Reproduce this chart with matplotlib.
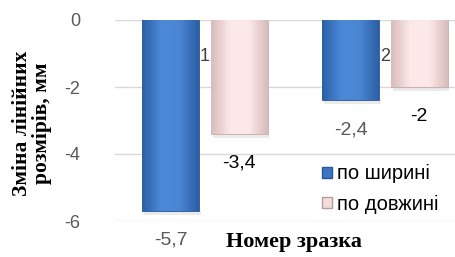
import numpy as np
import matplotlib
matplotlib.use('Agg')
import matplotlib.pyplot as plt
from matplotlib.colors import LinearSegmentedColormap
from matplotlib.patches import Rectangle

plt.rcParams['font.family'] = ['Liberation Sans', 'DejaVu Sans']

samples = ['1', '2']
width_vals = [-5.7, -2.4]    # по ширині
length_vals = [-3.4, -2.0]   # по довжині
series_names = ['по ширині', 'по довжині']
width_labels = ['-5,7', '-2,4']
length_labels = ['-3,4', '-2']

fig = plt.figure(figsize=(4.56, 2.57), dpi=100)
ax = fig.add_axes([115 / 456, 36 / 257, 341 / 456, 201 / 257])

x = np.arange(1, len(samples) + 1)
bw = 0.315
off = 0.19

blue_cmap = LinearSegmentedColormap.from_list('b', ['#2c5fa6', '#4b89d8', '#4a86d3', '#2c5fa6'])
pink_cmap = LinearSegmentedColormap.from_list('p', ['#d9bcbc', '#fce8e8', '#fde9e9', '#d9bcbc'])

bars1 = ax.bar(x - off, width_vals, bw, color='#3d75c4', edgecolor='#2a5596', linewidth=0.6, zorder=3)
bars2 = ax.bar(x + off, length_vals, bw, color='#fbe4e4', edgecolor='#c9a9a9', linewidth=0.6, zorder=3)

grad = np.linspace(0, 1, 64).reshape(1, -1)
for bars, cmap in [(bars1, blue_cmap), (bars2, pink_cmap)]:
    for b in bars:
        x0, y0 = b.get_x(), b.get_y()
        w, h = b.get_width(), b.get_height()
        # soft shadow
        sh = Rectangle((x0 + 0.01, y0 + h - 0.12), w, 0.12, color='#000000', alpha=0.08,
                       zorder=2, linewidth=0)
        ax.add_patch(sh)
        im = ax.imshow(grad, cmap=cmap, aspect='auto', extent=(x0, x0 + w, y0 + h, y0),
                       zorder=3.5, interpolation='bicubic')
        im.set_clip_path(b)

ax.set_xlim(0.5, 2.394)
ax.set_ylim(-6, 0)
ax.set_yticks([0, -2, -4, -6])
ax.set_yticklabels(['0', '-2', '-4', '-6'])
ax.set_xticks([])
for s in ax.spines.values():
    s.set_visible(False)
ax.yaxis.grid(True, color='#d9d9d9', linewidth=1)
ax.set_axisbelow(True)
ax.tick_params(axis='y', length=0, pad=25, labelsize=13, labelcolor='#595959')

for i, s in enumerate(samples):
    ax.text(x[i], -1.1, s, ha='center', va='center', fontsize=13, color='#404040', zorder=5)

for b, t in zip(bars1, width_labels):
    ax.annotate(t, (b.get_x() + b.get_width() / 2, b.get_height()), xytext=(0, -21),
                textcoords='offset points', ha='center', va='center', fontsize=14,
                color='#595959', annotation_clip=False)
for b, t in zip(bars2, length_labels):
    ax.annotate(t, (b.get_x() + b.get_width() / 2, b.get_height()), xytext=(0, -21),
                textcoords='offset points', ha='center', va='center', fontsize=14,
                color='#000000', annotation_clip=False)

fig.text(32 / 456, 1 - 123 / 257, 'Зміна лінійних\nрозмірів, мм', rotation=90,
         ha='center', va='center', multialignment='center', fontsize=15.5,
         family='Liberation Serif', fontweight='bold', linespacing=1.05)
fig.text(294 / 456, 1 - 242 / 257, 'Номер зразка', ha='center', va='center',
         fontsize=16, family='Liberation Serif', fontweight='bold')

h1 = Rectangle((0, 0), 1, 1, facecolor='#3d75c4', edgecolor='#2a5596')
h2 = Rectangle((0, 0), 1, 1, facecolor='#f3dede', edgecolor='#b89c9c')
fig.legend([h1, h2], series_names, loc='center left',
           bbox_to_anchor=(322 / 456, 1 - 189 / 257), frameon=False, fontsize=14.5,
           handlelength=0.5, handleheight=0.5, handletextpad=0.25, labelspacing=0.55,
           borderaxespad=0, borderpad=0)

fig.savefig('out.png', dpi=100)
